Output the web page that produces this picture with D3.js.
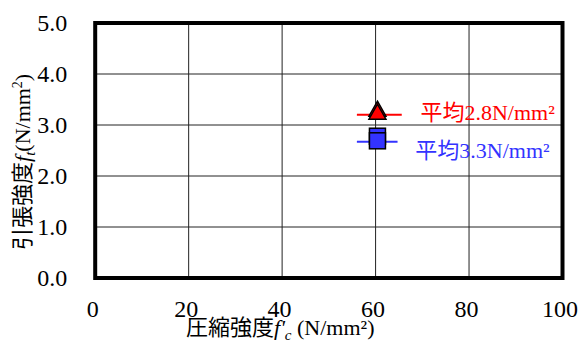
<!DOCTYPE html>
<html>
<head>
<meta charset="utf-8">
<script src="https://cdn.jsdelivr.net/npm/d3@7"></script>
<style>
  body { margin: 0; background: #fff; }
  svg { display: block; }
  text { font-family: "Liberation Serif", "Times New Roman", "Noto Sans CJK JP", serif; }
</style>
</head>
<body>
<svg id="grafico" width="579" height="343"></svg>
<script>
const svg = d3.select("#grafico");

// datos
const ticksX = [0, 20, 40, 60, 80, 100];
const ticksY = [0, 1, 2, 3, 4, 5];
const triangulos = [
  { fc: 60.4, ft: 3.31 },
  { fc: 60.4, ft: 3.25 }
];
const cuadrados = [
  { fc: 60.4, ft: 2.78 },
  { fc: 60.4, ft: 2.69 }
];
const lineasPromedio = [
  { x0: 56.0, x1: 65.6, ft: 3.20, color: "#ff0000" },
  { x0: 56.0, x1: 64.7, ft: 2.67, color: "#3333ff" }
];
const etiquetas = [
  { texto: "平均2.8N/mm²", fc: 69.6, ft: 3.10, color: "#ff0000" },
  { texto: "平均3.3N/mm²", fc: 68.5, ft: 2.35, color: "#3333ff" }
];

const x = d3.scaleLinear().domain([0, 100]).range([95.2, 562.5]);
const y = d3.scaleLinear().domain([0, 5]).range([278, 23]);

// rejilla
svg.append("g")
  .selectAll("line")
  .data(ticksX.slice(1, -1))
  .enter()
  .append("line")
  .attr("x1", d => x(d)).attr("x2", d => x(d))
  .attr("y1", y(5)).attr("y2", y(0))
  .attr("stroke", "#222").attr("stroke-width", 1);

svg.append("g")
  .selectAll("line")
  .data(ticksY.slice(1, -1))
  .enter()
  .append("line")
  .attr("x1", x(0)).attr("x2", x(100))
  .attr("y1", d => y(d)).attr("y2", d => y(d))
  .attr("stroke", "#222").attr("stroke-width", 1);

// etiquetas de ejes
const ejeX = d3.axisBottom(x).tickValues(ticksX).tickSize(0).tickPadding(0).tickFormat(d3.format("d"));
svg.append("g")
  .attr("transform", `translate(-3,${y(0)})`)
  .call(ejeX)
  .call(g => g.select(".domain").remove())
  .selectAll("text")
  .attr("dy", null)
  .attr("y", 39)
  .attr("fill", "#000")
  .style("font-size", "24px");

const ejeY = d3.axisLeft(y).tickValues(ticksY).tickSize(0).tickPadding(28).tickFormat(d3.format(".1f"));
svg.append("g")
  .attr("transform", `translate(${x(0)},0)`)
  .call(ejeY)
  .call(g => g.select(".domain").remove())
  .selectAll("text")
  .attr("fill", "#000")
  .style("font-size", "24px");

// lineas de promedio
svg.append("g")
  .selectAll("line")
  .data(lineasPromedio)
  .enter()
  .append("line")
  .attr("x1", d => x(d.x0)).attr("x2", d => x(d.x1))
  .attr("y1", d => y(d.ft)).attr("y2", d => y(d.ft))
  .attr("stroke", d => d.color).attr("stroke-width", 2);

// marcadores
svg.append("g")
  .selectAll("rect")
  .data(cuadrados)
  .enter()
  .append("rect")
  .attr("x", d => x(d.fc) - 8)
  .attr("y", d => y(d.ft) - 8)
  .attr("width", 16).attr("height", 16)
  .attr("fill", "#3333ff")
  .attr("stroke", "#000").attr("stroke-width", 1.5);

svg.append("g")
  .selectAll("path")
  .data(triangulos)
  .enter()
  .append("path")
  .attr("d", d => {
    const cx = x(d.fc), cy = y(d.ft);
    return `M${cx},${cy - 8}L${cx + 8.5},${cy + 7}L${cx - 8.5},${cy + 7}Z`;
  })
  .attr("fill", "#ff0000")
  .attr("stroke", "#000").attr("stroke-width", 1.5);

svg.append("g")
  .selectAll("text")
  .data(etiquetas)
  .enter()
  .append("text")
  .attr("x", d => x(d.fc))
  .attr("y", d => y(d.ft))
  .attr("fill", d => d.color)
  .style("font-size", "22px")
  .text(d => d.texto);

// marco
svg.append("rect")
  .attr("x", x(0)).attr("y", y(5))
  .attr("width", x(100) - x(0)).attr("height", y(0) - y(5))
  .attr("fill", "none")
  .attr("stroke", "#000").attr("stroke-width", 4);

// titulos
const tituloX = svg.append("text")
  .attr("x", 186).attr("y", 335)
  .style("font-size", "22px");
tituloX.append("tspan").text("圧縮強度");
tituloX.append("tspan").style("font-style", "italic").text("f'");
tituloX.append("tspan").style("font-style", "italic").attr("dy", 5).style("font-size", "15px").text("c");
tituloX.append("tspan").attr("dy", -5).text(" (N/mm²)");

const tituloY = svg.append("text")
  .attr("transform", "translate(30,250) rotate(-90)")
  .style("font-size", "22px");
tituloY.append("tspan").text("引張強度");
tituloY.append("tspan").style("font-style", "italic").text("f");
tituloY.append("tspan").style("font-style", "italic").attr("dy", 5).style("font-size", "15px").text("t");
tituloY.append("tspan").attr("dy", -5).text("(N/mm");
tituloY.append("tspan").attr("dy", -8).style("font-size", "14px").text("2");
tituloY.append("tspan").attr("dy", 8).text(")");
</script>
</body>
</html>
